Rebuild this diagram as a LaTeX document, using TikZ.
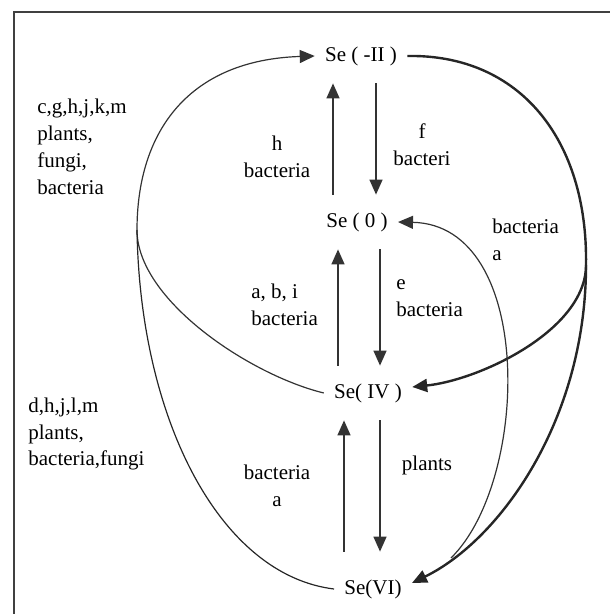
\documentclass[tikz,border=0pt]{standalone}
\usepackage{fontspec}
\setmainfont{Liberation Serif}
\usetikzlibrary{arrows.meta}

\begin{document}
\begin{tikzpicture}[
    x=0.5pt,
    y=-0.5pt,
    font=\fontsize{10.5}{13.4}\selectfont,
    species/.style={
        inner xsep=5pt,
        inner ysep=0pt,
        minimum height=27pt
    },
    note/.style={
        inner sep=0pt,
        align=#1
    },
    note/.default=left,
    flow/.style={-{Triangle[length=7.5pt,width=6.5pt]}, line width=0.7pt, draw=black!80},
    loop/.style={line width=0.6pt, draw=black!85},
    heavy/.style={-{Triangle[length=7.5pt,width=6.5pt]}, line width=1.2pt, draw=black!85}
]

\useasboundingbox (0,0) rectangle (610,614);
\draw[line width=0.8pt, black!75] (14,614) -- (14,12) -- (610,12);

\node[species] (mII) at (361,56) {Se ( -II )};
\node[species] (m0) at (357,222) {Se ( 0 )};
\node[species] (iv) at (368,393) {Se( IV )};
\node[species] (vi) at (373,589) {Se(VI)};

% vertical steps
\draw[flow] ([xshift=-12pt]m0.north) -- ([xshift=-14pt]mII.south);
\draw[flow] ([xshift=7.5pt]mII.south) -- ([xshift=9.5pt]m0.north);
\draw[flow] ([xshift=-15pt]iv.north) -- ([xshift=-9.5pt]m0.south);
\draw[flow] ([xshift=11.5pt]m0.south) -- ([xshift=6pt]iv.north);
\draw[flow, shorten <=5pt] ([xshift=-14.5pt]vi.north) -- ([xshift=-12pt]iv.south);
\draw[flow, shorten >=5pt] ([xshift=6pt]iv.south) -- ([xshift=3.5pt]vi.north);

\node[note=center] (hB) at (277,157) {h\\bacteria};
\node[note=center] (fB) at (422,145) {f\\bacteri};
\node[note, anchor=west] (abiB) at (251,305) {a, b, i\\bacteria};
\node[note, anchor=west] (eB) at (396,298) {e\\bacteria};
\node[note=center] (bA) at (277,486) {bacteria\\a};
\node[note=center] (pl) at (427,465) {plants};
\node[note, anchor=west] (bAr) at (492,240) {bacteria\\a};
\node[note, anchor=west] (lTop) at (37,147) {c,g,h,j,k,m\\plants,\\fungi,\\bacteria};
\node[note, anchor=west] (lBot) at (28,434) {d,h,j,l,m\\plants,\\bacteria,fungi};

% big loops
\coordinate (lft) at (137,230);
\coordinate (split) at (586,265);
\coordinate (join) at (451,558);

\draw[flow, line width=0.6pt] (iv.west) .. controls (250,375) and (137,300) .. (lft)
    .. controls (137,130) and (190,60) .. (mII.west);
\draw[loop] (vi.west) .. controls (220,575) and (140,420) .. (lft);

\draw[line width=1.2pt, draw=black!85] (mII.east) .. controls (520,54) and (588,140) .. (split);
\draw[heavy] (split) .. controls (586,330) and (480,380) .. ([yshift=3pt]iv.east);
\draw[heavy] (split) .. controls (586,420) and (500,540) .. ([yshift=3pt]vi.east);

\draw[flow, line width=0.6pt] (join) .. controls (530,480) and (535,225) .. (m0.east);

\end{tikzpicture}
\end{document}
